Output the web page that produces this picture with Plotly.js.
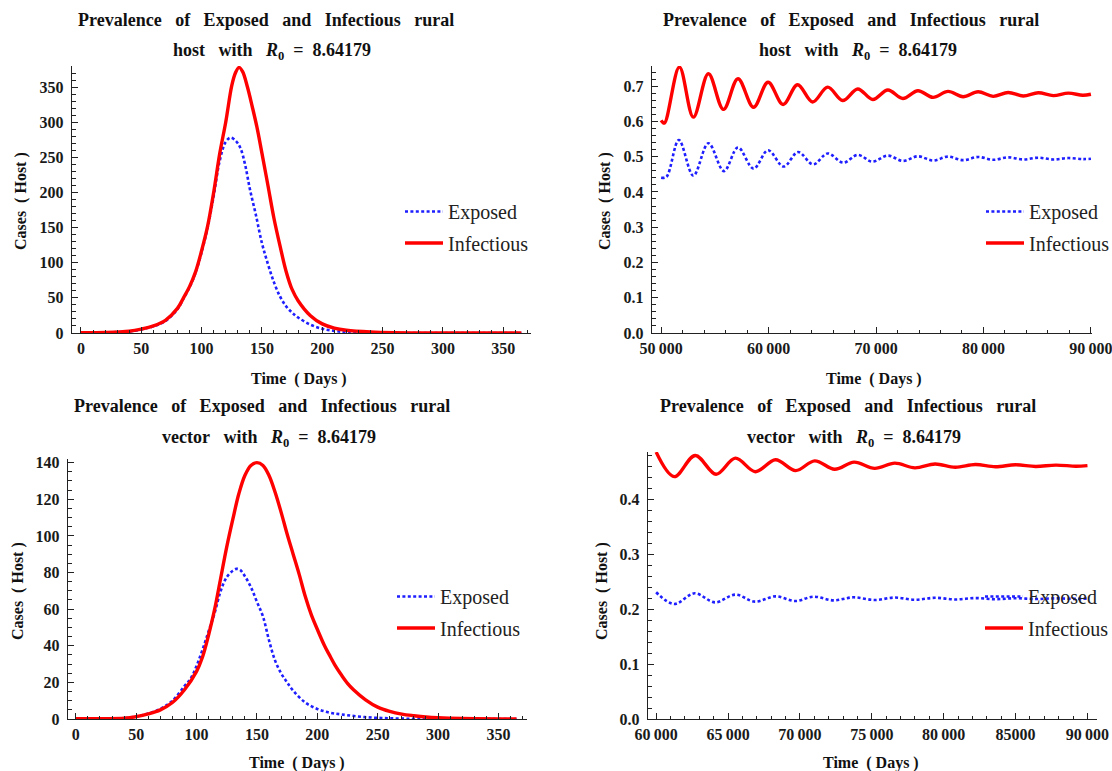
<!DOCTYPE html>
<html>
<head>
<meta charset="utf-8">
<script src="https://cdn.plot.ly/plotly-3.0.1.min.js"></script>
<style>html,body{margin:0;padding:0;background:#fff;}#chart{width:1112px;height:771px;}</style>
</head>
<body>
<div id="chart"></div>
<script>
// ---------- Data ----------
// Panel 1: rural host, first year
const hostDays = [0,20,40,50,60,70,80,85,90,95,100,105,110,115,120,125,128,131,134,138,142,146,150,155,160,165,170,175,180,190,200,210,220,240,260,300,365];
const hostInfectious = [0.5,0.8,2.5,5.5,10,18,35,50,66,87,117,152,200,255,300,352,370,378,372,350,322,292,256,210,163,124,88,62,46,25,13,7,4,1.5,0.5,0.1,0];
const hostExpDays = [0,20,40,50,60,70,80,85,90,95,100,105,110,115,120,124,128,132,136,140,145,150,155,160,165,170,175,180,190,200,210,220,240,300,365];
const hostExposed = [0.4,0.7,2.3,5,9.5,17,34,49,65,86,115,150,195,245,272,278,274,264,240,205,168,128,98,72,52,38,29,22,12,6,3,1.2,0.3,0,0];

// Panel 2: rural host, long run
const hostLongInfDays = [50000,50300,51700,53000,54400,55800,57150,58600,59950,61350,62700,64100,65500,66900,68300,69700,71100,72500,73900,75300,76700,78100,79500,80900,82300,83700,85100,86500,87900,89250,90000];
const hostLongInfectious = [0.603,0.595,0.754,0.612,0.735,0.634,0.721,0.640,0.711,0.648,0.704,0.655,0.697,0.659,0.692,0.662,0.689,0.665,0.687,0.668,0.685,0.670,0.684,0.671,0.682,0.672,0.681,0.673,0.680,0.674,0.677];
const hostLongExpDays = [50000,50500,51650,53000,54400,55850,57150,58600,59950,61400,62750,64150,65500,66950,68300,69650,71100,72500,73900,75300,76700,78100,79500,80900,82300,83700,85100,86500,87900,89250,90000];
const hostLongExposed = [0.440,0.443,0.547,0.446,0.538,0.459,0.526,0.466,0.518,0.472,0.513,0.478,0.509,0.483,0.505,0.486,0.503,0.488,0.501,0.489,0.500,0.490,0.499,0.491,0.498,0.492,0.497,0.492,0.496,0.493,0.494];

// Panel 3: rural vector, first year
const vecDays = [0,20,40,50,60,70,80,90,100,105,110,115,120,125,130,135,140,145,150,155,160,165,170,175,180,185,190,195,200,206,210,215,220,225,230,240,250,260,270,280,290,300,320,365];
const vecInfectious = [0.1,0.2,0.4,1.3,2.8,5,9,16,26,34,46,60,77,94,109,123,133,138.5,140,138.5,133,124,113,101,90,79,67,57,49,40,35,29,24,19.5,16,10.5,6.5,4.2,2.7,1.8,1.1,0.7,0.3,0.05];
const vecExpDays = [0,20,40,50,60,70,80,90,95,100,105,110,115,120,125,130,133,136,140,145,150,155,160,165,170,175,180,190,200,210,220,240,260,280,300,365];
const vecExposed = [0.1,0.2,0.5,1.4,3,5.5,10,18,22,29,38,48,58,70,77.5,81,82,81.5,78,72,64,56,43,32,25,20,15.5,9,5.5,3.5,2.5,1,0.4,0.1,0,0];

// Panel 4: rural vector, long run
const vecLongInfDays = [60000,61260,62720,64170,65510,66910,68300,69700,71030,72420,73770,75200,76600,78000,79400,80800,82200,83600,85000,86400,87800,89200,90000];
const vecLongInfectious = [0.4856,0.441,0.4795,0.4453,0.4746,0.4500,0.4716,0.4520,0.4697,0.4544,0.4673,0.4560,0.4655,0.4570,0.4640,0.4580,0.4630,0.4590,0.4625,0.4595,0.4620,0.4600,0.4610];
const vecLongExpDays = [60000,61250,62680,64100,65510,66870,68300,69700,70940,72360,73720,75200,76600,78000,79400,80800,82200,83600,85000,86400,87800,89200,90000];
const vecLongExposed = [0.2306,0.2092,0.2287,0.2122,0.2263,0.2135,0.2232,0.2147,0.2226,0.2159,0.2214,0.2165,0.2210,0.2170,0.2205,0.2175,0.2200,0.2180,0.2198,0.2183,0.2195,0.2185,0.2190];

// Tick labels
const shortXTicks = [0,50,100,150,200,250,300,350];
const shortXText = ['0','50','100','150','200','250','300','350'];
const hostYTicks = [0,50,100,150,200,250,300,350];
const hostYText = ['0','50','100','150','200','250','300','350'];
const hostLongXTicks = [50000,60000,70000,80000,90000];
const hostLongXText = ['50\u2009000','60\u2009000','70\u2009000','80\u2009000','90\u2009000'];
const hostLongYTicks = [0,0.1,0.2,0.3,0.4,0.5,0.6,0.7];
const hostLongYText = ['0.0','0.1','0.2','0.3','0.4','0.5','0.6','0.7'];
const vecYTicks = [0,20,40,60,80,100,120,140];
const vecYText = ['0','20','40','60','80','100','120','140'];
const vecLongXTicks = [60000,65000,70000,75000,80000,85000,90000];
const vecLongXText = ['60\u2009000','65\u2009000','70\u2009000','75\u2009000','80\u2009000','85000','90\u2009000'];
const vecLongYTicks = [0,0.1,0.2,0.3,0.4];
const vecLongYText = ['0.0','0.1','0.2','0.3','0.4'];

const seriesNames = ['Exposed','Infectious'];
const titleLine1 = 'Prevalence\u00a0\u00a0\u00a0of\u00a0\u00a0\u00a0Exposed\u00a0\u00a0\u00a0and\u00a0\u00a0\u00a0Infectious\u00a0\u00a0\u00a0rural';
const titleHost = 'host\u00a0\u00a0\u00a0with\u00a0\u00a0\u00a0<i>R</i><sub>0</sub>\u00a0\u00a0=\u00a0\u00a08.64179';
const titleVec = 'vector\u00a0\u00a0\u00a0with\u00a0\u00a0\u00a0<i>R</i><sub>0</sub>\u00a0\u00a0=\u00a0\u00a08.64179';
const xTitle = 'Time\u00a0\u00a0(\u00a0Days\u00a0)';
const yTitle = 'Cases\u00a0\u00a0(\u00a0Host\u00a0)';

// ---------- Styling ----------
const W = 1112, H = 771;
const SERIF = 'Liberation Serif, Times New Roman, serif';
const RED = 'rgb(255,0,0)';
const BLUE = 'rgb(30,30,255)';
const px = v => v / W;
const py = v => 1 - v / H;

function expTrace(x, y, xa, ya, lg) {
  return {x: x, y: y, xaxis: xa, yaxis: ya, type: 'scatter', mode: 'lines', name: seriesNames[0],
    legend: lg, legendgroup: lg + 'e',
    line: {color: BLUE, width: 2.6, dash: '3px,2.4px', shape: 'spline', smoothing: 1}, hoverinfo: 'skip'};
}
function infTrace(x, y, xa, ya, lg) {
  return {x: x, y: y, xaxis: xa, yaxis: ya, type: 'scatter', mode: 'lines', name: seriesNames[1],
    legend: lg, legendgroup: lg + 'i',
    line: {color: RED, width: 3.4, shape: 'spline', smoothing: 1}, hoverinfo: 'skip'};
}

const data = [
  expTrace(hostExpDays, hostExposed, 'x', 'y', 'legend'),
  infTrace(hostDays, hostInfectious, 'x', 'y', 'legend'),
  expTrace(hostLongExpDays, hostLongExposed, 'x2', 'y2', 'legend2'),
  infTrace(hostLongInfDays, hostLongInfectious, 'x2', 'y2', 'legend2'),
  expTrace(vecExpDays, vecExposed, 'x3', 'y3', 'legend3'),
  infTrace(vecDays, vecInfectious, 'x3', 'y3', 'legend3'),
  expTrace(vecLongExpDays, vecLongExposed, 'x4', 'y4', 'legend4'),
  infTrace(vecLongInfDays, vecLongInfectious, 'x4', 'y4', 'legend4')
];

const tickFont = {family: SERIF, size: 16, weight: 'bold', color: '#1a1a1a'};
function axis(domain, range, tv, tt, minorD, anchor, isY) {
  return {domain: domain, range: range, anchor: anchor, tickmode: 'array', tickvals: tv, ticktext: tt,
    ticks: 'inside', ticklen: 6, tickwidth: 1, tickcolor: '#222',
    minor: {ticks: 'inside', ticklen: 3.5, tickwidth: 1, tickcolor: '#222', tickmode: 'linear', tick0: 0, dtick: minorD, showgrid: false},
    showline: true, linecolor: '#222', linewidth: 1.3, mirror: false,
    ticklabelstandoff: isY ? 4 : 0, ticklabeloverflow: 'allow', automargin: false,
    showgrid: false, zeroline: false, tickfont: tickFont, fixedrange: true};
}

function legendAt(x, y) {
  return {x: px(x), y: py(y), xanchor: 'left', yanchor: 'top', bgcolor: 'rgba(0,0,0,0)', borderwidth: 0,
    font: {family: SERIF, size: 20, color: '#222'}, traceorder: 'grouped', tracegroupgap: 2.5, itemwidth: 38};
}

const titleFont = {family: SERIF, size: 18, weight: 'bold', color: '#111'};
const axTitleFont = {family: SERIF, size: 16, weight: 'bold', color: '#111'};
function ann(text, x, y, font, angle) {
  return {text: text, x: px(x), y: py(y), xref: 'paper', yref: 'paper', xanchor: 'center', yanchor: 'middle',
    showarrow: false, font: font, textangle: angle || 0};
}

const layout = {
  width: W, height: H, margin: {l: 0, r: 0, t: 0, b: 0, autoexpand: false},
  paper_bgcolor: '#fff', plot_bgcolor: '#fff', showlegend: true,
  xaxis: axis([px(72), px(531)], [-7.4, 373], shortXTicks, shortXText, 10, 'y'),
  yaxis: axis([py(333), py(66)], [0, 380], hostYTicks, hostYText, 10, 'x', true),
  xaxis2: axis([px(652), px(1092)], [49150, 90100], hostLongXTicks, hostLongXText, 2000, 'y2'),
  yaxis2: axis([py(333), py(66)], [0, 0.757], hostLongYTicks, hostLongYText, 0.02, 'x2', true),
  xaxis3: axis([px(68), px(527)], [-6.5, 373.7], shortXTicks, shortXText, 10, 'y3'),
  yaxis3: axis([py(719), py(459)], [0, 142], vecYTicks, vecYText, 5, 'x3', true),
  xaxis4: axis([px(648), px(1097)], [59434, 90664], vecLongXTicks, vecLongXText, 1000, 'y4'),
  yaxis4: axis([py(719), py(452)], [0, 0.4858], vecLongYTicks, vecLongYText, 0.02, 'x4', true),
  legend: legendAt(400, 192),
  legend2: legendAt(981, 192),
  legend3: legendAt(392, 577),
  legend4: legendAt(980, 577),
  annotations: [
    ann(titleLine1, 266, 20, titleFont), ann(titleHost, 272, 52, titleFont),
    ann(titleLine1, 851, 20, titleFont), ann(titleHost, 858, 52, titleFont),
    ann(titleLine1, 262, 406, titleFont), ann(titleVec, 269, 438, titleFont),
    ann(titleLine1, 848, 406, titleFont), ann(titleVec, 854, 438, titleFont),
    ann(xTitle, 299, 379, axTitleFont), ann(xTitle, 874, 379, axTitleFont),
    ann(xTitle, 297, 763, axTitleFont), ann(xTitle, 871, 763, axTitleFont),
    ann(yTitle, 21, 201, axTitleFont, -90), ann(yTitle, 605, 201, axTitleFont, -90),
    ann(yTitle, 18, 591, axTitleFont, -90), ann(yTitle, 602, 591, axTitleFont, -90)
  ]
};

Plotly.newPlot('chart', data, layout, {staticPlot: true, displayModeBar: false});
</script>
</body>
</html>
